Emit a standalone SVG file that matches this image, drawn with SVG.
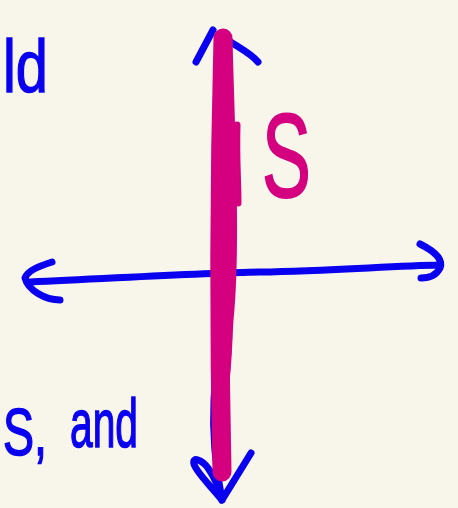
<svg xmlns="http://www.w3.org/2000/svg" width="458" height="508" viewBox="0 0 458 508">
<style>
.blue{fill:none;stroke:#0a00f0;stroke-width:7;stroke-linecap:round;stroke-linejoin:round}
.mag{fill:none;stroke:#d4007f;stroke-linecap:round;stroke-linejoin:round}
.bt{fill:#0a00f0;stroke:#0a00f0;stroke-width:1.5;font-family:"Liberation Sans",sans-serif}
.mt{fill:#d4007f;stroke:#d4007f;stroke-width:2;font-family:"Liberation Sans",sans-serif}
</style>
<rect width="458" height="508" fill="#f8f6eb"/>
<g id="connectors">
<path class="blue" d="M30,282 C120,278 200,273 260,272 C330,271 390,266 440,265"/>
<path class="blue" d="M52,262 C40,266 28,270 25,278 C28,290 45,300 60,300"/>
<path class="blue" d="M420,244 C432,250 444,258 440,268 C436,276 428,278 421,278"/>
<path class="blue" d="M219,40 L218,280 C212,320 218,350 214,400 C212,440 216,470 222,500"/>
<path class="blue" d="M196,62 L213,30"/>
<path class="blue" d="M222,36 C235,46 250,52 258,62"/>
<path class="blue" d="M222,500 C210,485 196,472 194,464 C192,456 202,460 208,468 C215,478 220,490 222,500 L251,453"/>
</g>
<g id="magenta-stroke">
<path class="mag" stroke-width="19" d="M223,38 C220,150 218,300 222,472"/>
<path class="mag" stroke-width="9" d="M228,40 C231,150 236,250 229,320 C225,370 223,420 224,470"/>
<path class="mag" stroke-width="7" d="M237,125 C236,160 238,180 238,203"/>
<path class="mag" stroke-width="5" d="M229,235 C229,280 233,330 227,380"/>
</g>
<g id="label-s">
<text class="mt" font-size="118" transform="translate(262,197) scale(0.62,1)">S</text>
</g>
<g id="text-ld">
<text class="bt" font-size="74" transform="translate(3,92) scale(0.78,1)">ld</text>
</g>
<g id="text-s-and">
<text class="bt" font-size="66" x="3" y="455" textLength="44" lengthAdjust="spacingAndGlyphs">S,</text>
<text class="bt" font-size="68" x="70" y="447" textLength="68" lengthAdjust="spacingAndGlyphs">and</text>
</g>
</svg>
